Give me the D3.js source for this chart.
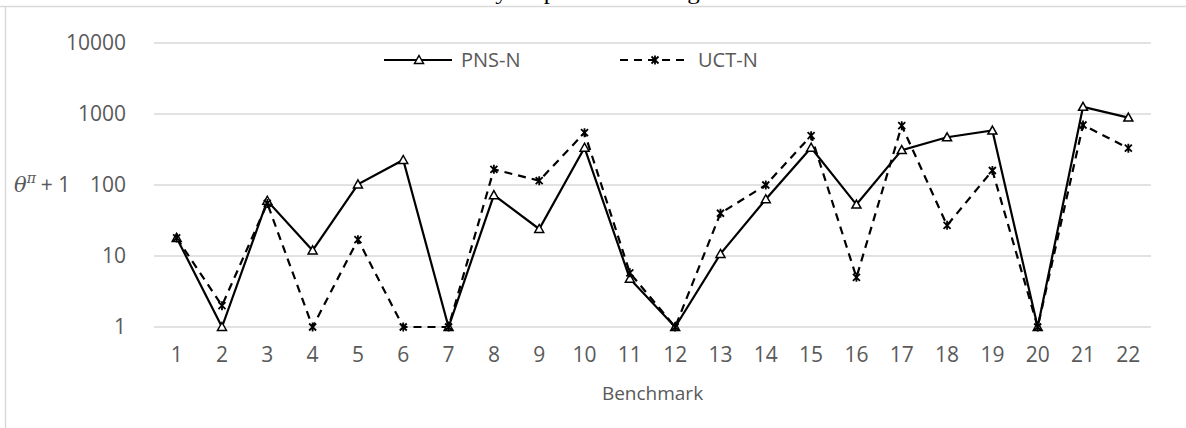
<!DOCTYPE html>
<html>
<head>
<meta charset="utf-8">
<script src="https://cdn.jsdelivr.net/npm/d3@7"></script>
<style>
  body { margin: 0; background: #fff; }
  svg { display: block; }
  .tick text { font-family: "Open Sans", sans-serif; fill: #595959; }
</style>
</head>
<body>
<svg id="chart" width="1186" height="428"></svg>
<script>
// data (theta + 1, log scale)
const benchmarks = d3.range(1, 23);
const pnsN = [18, 1, 60, 12, 102, 225, 1, 72, 24, 335, 4.8, 1, 10.7, 63, 335, 53, 310, 470, 585, 1, 1260, 890];
const uctN = [18, 2, 55, 1, 17, 1, 1, 166, 115, 545, 5.8, 1, 40, 100, 495, 5, 685, 27, 160, 1, 700, 330];
const yTicks = [1, 10, 100, 1000, 10000];
const seriesNames = ["PNS-N", "UCT-N"];

const svg = d3.select("#chart"),
    margin = {top: 43, right: 35, bottom: 101, left: 154},
    width = 1186 - margin.left - margin.right,
    height = 428 - margin.top - margin.bottom;

// chart frame (only top + left edges visible)
svg.append("line").attr("x1", 0).attr("x2", 1186).attr("y1", 6.5).attr("y2", 6.5)
    .attr("stroke", "#d9d9d9").attr("stroke-width", 1.5);
svg.append("line").attr("x1", 5.5).attr("x2", 5.5).attr("y1", 6.5).attr("y2", 428)
    .attr("stroke", "#d9d9d9").attr("stroke-width", 1.5);

// caption text above, mostly outside the picture
svg.append("text")
    .attr("x", 352).attr("y", -1)
    .attr("textLength", 493)
    .attr("lengthAdjust", "spacingAndGlyphs")
    .attr("font-family", "Liberation Serif, serif")
    .attr("font-size", "21px")
    .attr("fill", "#000")
    .text("so the data may be plotted on a logarithmic scale.");

const g = svg.append("g")
    .attr("transform", "translate(" + margin.left + "," + margin.top + ")");

const x = d3.scaleBand().domain(benchmarks).range([0, width]);
const y = d3.scaleLog().domain([1, 10000]).range([height, 0]);
const cx = function(d) { return x(d) + x.bandwidth() / 2; };

// gridlines
g.append("g")
    .selectAll("line")
    .data(yTicks)
    .enter().append("line")
    .attr("x1", 0).attr("x2", width)
    .attr("y1", function(d) { return y(d); })
    .attr("y2", function(d) { return y(d); })
    .attr("stroke", "#d9d9d9")
    .attr("stroke-width", 1.5);

// Y axis
const yAxis = g.append("g")
    .call(d3.axisLeft(y).tickValues(yTicks).tickFormat(d3.format("d")).tickSize(0).tickPadding(28));
yAxis.select(".domain").remove();
yAxis.selectAll("text").attr("font-size", "21px");

// X axis
const xAxis = g.append("g")
    .attr("transform", "translate(0," + height + ")")
    .call(d3.axisBottom(x).tickSize(0).tickPadding(20));
xAxis.select(".domain").remove();
xAxis.selectAll("text").attr("font-size", "21px");

// axis titles
g.append("text")
    .attr("x", width / 2)
    .attr("y", height + 73)
    .attr("text-anchor", "middle")
    .attr("font-family", "Open Sans, sans-serif")
    .attr("font-size", "19px")
    .attr("fill", "#595959")
    .text("Benchmark");

const yTitle = svg.append("text")
    .attr("x", 14).attr("y", 192)
    .attr("font-family", "DejaVu Serif, serif")
    .attr("font-size", "21px")
    .attr("fill", "#595959");
yTitle.append("tspan").attr("font-style", "italic").text("θ");
yTitle.append("tspan").attr("font-style", "italic").attr("font-size", "14px").attr("dy", -9).text("π");
yTitle.append("tspan").attr("dy", 9).attr("dx", 5).attr("font-family", "Open Sans, sans-serif").text("+ 1");

// lines
const line = d3.line()
    .x(function(d, i) { return cx(benchmarks[i]); })
    .y(function(d) { return y(d); });

g.append("path")
    .datum(pnsN)
    .attr("d", line)
    .attr("fill", "none")
    .attr("stroke", "#000")
    .attr("stroke-width", 2.2);

g.append("path")
    .datum(uctN)
    .attr("d", line)
    .attr("fill", "none")
    .attr("stroke", "#000")
    .attr("stroke-width", 2.2)
    .attr("stroke-dasharray", "8,6");

// markers
const triangle = "M0,-4.5L4.5,3.5L-4.5,3.5Z";
const star = "M-3.5,-3.5L3.5,3.5M-3.5,3.5L3.5,-3.5M0,-4.5L0,4.5";

g.append("g").selectAll("path")
    .data(pnsN)
    .enter().append("path")
    .attr("transform", function(d, i) { return "translate(" + cx(benchmarks[i]) + "," + y(d) + ")"; })
    .attr("d", triangle)
    .attr("fill", "#fff")
    .attr("stroke", "#000")
    .attr("stroke-width", 1.5);

g.append("g").selectAll("path")
    .data(uctN)
    .enter().append("path")
    .attr("transform", function(d, i) { return "translate(" + cx(benchmarks[i]) + "," + y(d) + ")"; })
    .attr("d", star)
    .attr("fill", "none")
    .attr("stroke", "#000")
    .attr("stroke-width", 1.8);

// legend
const legendX = [384, 620];
const legend = svg.append("g")
    .selectAll("g")
    .data(seriesNames)
    .enter().append("g")
    .attr("transform", function(d, i) { return "translate(" + legendX[i] + ",60)"; });

legend.append("line")
    .attr("x1", 0).attr("x2", 68)
    .attr("stroke", "#000")
    .attr("stroke-width", 2.2)
    .attr("stroke-dasharray", function(d, i) { return i === 1 ? "8,6" : null; });

legend.append("path")
    .attr("transform", "translate(35,0)")
    .attr("d", function(d, i) { return i === 0 ? triangle : star; })
    .attr("fill", function(d, i) { return i === 0 ? "#fff" : "none"; })
    .attr("stroke", "#000")
    .attr("stroke-width", function(d, i) { return i === 0 ? 1.5 : 1.8; });

legend.append("text")
    .attr("x", function(d, i) { return i === 0 ? 77 : 78; })
    .attr("y", 7)
    .attr("font-family", "Open Sans, sans-serif")
    .attr("font-size", "20px")
    .attr("fill", "#595959")
    .text(function(d) { return d; });
</script>
</body>
</html>
